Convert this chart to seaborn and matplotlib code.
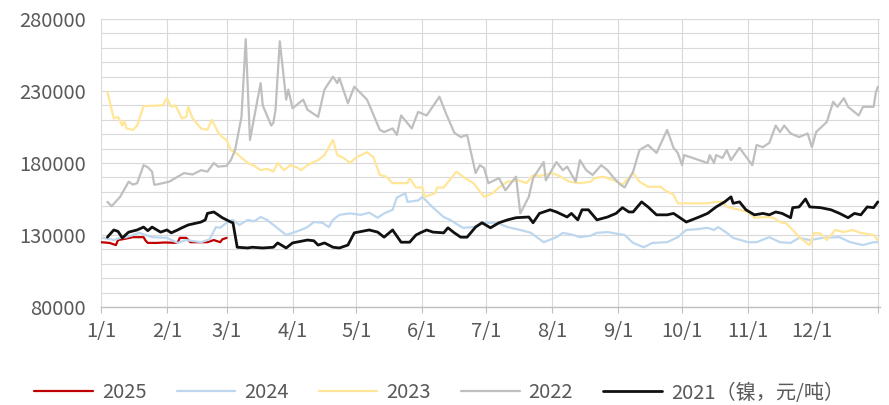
import matplotlib
matplotlib.use("Agg")
import matplotlib.pyplot as plt
import seaborn as sns
import pandas as pd
from matplotlib.ticker import MultipleLocator, FixedLocator

# nickel price by day of year (day 0 = Jan 1), yuan/ton
days_2025 = [0, 4, 7, 8, 10, 15, 20, 21, 22, 26, 30, 36, 37, 40, 42, 46, 50, 53, 56, 57, 59]
price_2025 = [125000, 124500, 123000, 126500, 127000, 128500, 128500, 126000, 124500, 124500,
              124800, 124500, 128000, 128000, 125000, 125000, 125000, 126500, 125000, 127000, 128000]

days_2024 = [1, 6, 9, 12, 18, 24, 31, 36, 40, 47, 51, 54, 56, 59, 62, 65, 69, 72, 75, 78,
             81, 84, 87, 90, 94, 97, 100, 104, 107, 109, 112, 117, 122, 126, 130, 133, 137, 139, 143, 144,
             149, 151, 156, 161, 164, 170, 175, 180, 186, 191, 197, 202, 208, 214, 217, 222, 225, 230, 233, 238,
             242, 246, 250, 255, 259, 266, 271, 275, 280, 285, 288, 290, 294, 297, 304, 308, 314, 319, 324, 328,
             333, 339, 347, 352, 358, 363, 365]
price_2024 = [128000, 126500, 128000, 128500, 131500, 128500, 128000, 124500, 126500, 125000,
              127000, 135500, 135000, 138500, 140500, 137000, 140500, 139500, 142500, 140500,
              137000, 133500, 130000, 131500, 133500, 135500, 139000, 138500, 135500, 140500,
              144000, 145000, 144000, 145500, 142000, 145000, 147500, 156000, 159000, 153000,
              154000, 156500, 149000, 142500, 140500, 135000, 135500, 138500, 138500, 135500,
              133500, 131500, 125000, 128500, 131500, 130000, 128500, 129500, 131500, 132000,
              131000, 130000, 124500, 121500, 124500, 125000, 128500, 133500, 134000, 135000,
              133500, 135500, 131500, 128000, 125000, 125000, 128500, 125000, 124500, 128000,
              126500, 128000, 128500, 125000, 123000, 125000, 125000]

days_2023 = [3, 6, 8, 10, 11, 12, 15, 17, 20, 29, 31, 33, 35, 38, 40, 41, 43, 47, 50, 52,
             55, 57, 59, 61, 63, 69, 72, 75, 78, 81, 83, 86, 89, 92, 94, 97, 99, 102, 105, 109,
             111, 114, 117, 120, 125, 128, 131, 134, 137, 144, 145, 148, 151, 152, 157, 158, 161, 167, 171, 175,
             180, 184, 187, 191, 196, 200, 203, 206, 212, 216, 220, 225, 230, 232, 236, 241, 245, 250, 253, 257,
             263, 265, 269, 271, 278, 285, 289, 292, 294, 300, 304, 307, 313, 316, 319, 322, 325, 328, 333, 335,
             338, 341, 345, 349, 353, 357, 363, 365]
price_2023 = [229500, 211000, 212000, 206000, 209000, 204000, 203000, 206000, 219500, 220000,
              225000, 219000, 220000, 211000, 212000, 219000, 211000, 204000, 203000, 210000,
              201500, 198000, 196000, 189000, 187500, 180000, 178000, 175000, 176000, 174000,
              180000, 175000, 178500, 177000, 175000, 178500, 180000, 182000, 185500, 196000,
              185500, 183500, 180000, 184000, 187500, 184000, 171700, 170500, 166000, 166000,
              169500, 163000, 163000, 156500, 159000, 163000, 163000, 174000, 169500, 166000,
              156500, 159000, 163000, 167000, 168000, 166000, 171700, 171000, 173000, 170500,
              167000, 166000, 167000, 169500, 170500, 168000, 165000, 173000, 167000, 163500,
              163500, 161000, 158000, 152000, 152000, 152000, 153000, 153000, 149500, 147500,
              146000, 142000, 142500, 142000, 139000, 138000, 133500, 128500, 123000, 131500,
              131000, 126500, 133500, 132000, 133500, 131500, 130000, 126500]

days_2022 = [3, 5, 9, 13, 15, 17, 20, 22, 24, 25, 26, 32, 39, 43, 47, 50, 53, 55, 59, 61,
             63, 66, 68, 70, 72, 75, 76, 80, 81, 82, 84, 87, 88, 90, 95, 97, 102, 105, 109, 111,
             112, 116, 119, 125, 131, 133, 137, 139, 141, 146, 149, 153, 159, 162, 166, 169, 172, 176, 178, 180,
             182, 187, 190, 195, 197, 201, 203, 208, 209, 214, 217, 219, 223, 225, 228, 231, 235, 238, 241, 244,
             246, 250, 253, 257, 261, 266, 269, 271, 273, 274, 285, 286, 288, 289, 292, 294, 296, 300, 306, 308,
             311, 314, 317, 319, 321, 324, 328, 332, 334, 336, 341, 344, 346, 349, 351, 356, 358, 363, 364, 365]
price_2022 = [153000, 150000, 156500, 167000, 165000, 166000, 178500, 177000, 174000, 165000,
              165000, 167000, 173000, 172000, 175000, 174000, 180000, 177500, 178000, 182000,
              189000, 212000, 266000, 196000, 212000, 235500, 220000, 206000, 208000, 217000,
              264500, 224000, 231000, 218000, 224000, 217000, 212000, 231000, 240000, 235500,
              239000, 221500, 233000, 224000, 203000, 201500, 204000, 199500, 213000, 204000,
              215500, 213000, 226000, 214700, 201000, 198000, 199500, 173000, 178500, 176500,
              166000, 169500, 161000, 170500, 145000, 156500, 169500, 180700, 168000, 180700,
              175000, 177500, 167000, 182000, 175000, 171700, 178500, 175000, 169500, 165000,
              163000, 174000, 189000, 192500, 187000, 203000, 190500, 187000, 178500, 185500,
              180000, 185500, 180000, 185500, 183500, 189000, 182000, 190500, 178500, 192500,
              191000, 194000, 206000, 201500, 206000, 200500, 198000, 200500, 191000, 201500,
              208500, 222500, 219000, 225000, 219000, 213000, 219000, 219000, 228500, 233000]

days_2021 = [3, 6, 8, 10, 13, 17, 20, 22, 24, 28, 31, 33, 36, 38, 41, 47, 49, 50, 53, 55,
             57, 61, 62, 64, 69, 71, 76, 81, 83, 87, 90, 97, 100, 102, 105, 109, 112, 116, 119, 126,
             130, 133, 137, 141, 145, 148, 150, 153, 156, 161, 163, 166, 169, 172, 176, 179, 183, 187, 191, 195,
             201, 203, 206, 211, 214, 219, 221, 224, 226, 229, 233, 238, 242, 245, 248, 250, 254, 257, 261, 266,
             269, 275, 281, 285, 289, 293, 296, 297, 300, 303, 307, 311, 314, 317, 320, 324, 325, 328, 331, 333,
             338, 343, 347, 351, 354, 357, 360, 363, 365]
price_2021 = [128500, 133500, 132500, 128000, 132000, 133500, 135500, 133000, 135500, 132000,
              133500, 131500, 133500, 135000, 137000, 139000, 140500, 145000, 146000, 144000,
              142000, 139000, 138500, 121500, 121000, 121500, 121000, 121500, 124500, 121000,
              124500, 126500, 126000, 123000, 124500, 121500, 121000, 123000, 131500, 133500,
              132000, 128500, 133500, 125000, 125000, 130000, 131500, 133500, 132000, 131500,
              135000, 131500, 128500, 128500, 135500, 138500, 135000, 138500, 140500, 142000,
              142500, 138500, 145000, 147500, 146000, 142500, 145000, 140500, 147500, 147500,
              140500, 142500, 145000, 149000, 146000, 146000, 153000, 149500, 144000, 144000,
              145000, 139000, 142500, 145000, 149500, 153000, 156500, 152000, 153000, 147500,
              144000, 145000, 144000, 146000, 145000, 142000, 149000, 149500, 155000, 149500,
              149000, 147500, 145000, 142000, 145000, 144000, 149500, 149000, 153000]

month_days = [0, 31, 59, 90, 120, 151, 181, 212, 243, 273, 304, 334, 365]
month_labels = ["1/1", "2/1", "3/1", "4/1", "5/1", "6/1", "7/1", "8/1", "9/1", "10/1", "11/1", "12/1", ""]
y_ticks = [80000, 130000, 180000, 230000, 280000]
year_labels = ["2025", "2024", "2023", "2022", "2021（镍，元/吨）"]

frames = []
for lab, d, p in zip(year_labels,
                     [days_2025, days_2024, days_2023, days_2022, days_2021],
                     [price_2025, price_2024, price_2023, price_2022, price_2021]):
    frames.append(pd.DataFrame({"day": d, "price": p, "year": lab}))
df = pd.concat(frames, ignore_index=True)

colors = {"2025": "#C00000", "2024": "#BDD7EE", "2023": "#FFE699",
          "2022": "#BFBFBF", "2021（镍，元/吨）": "#111111"}
widths = {"2025": 1.6, "2024": 1.6, "2023": 1.6, "2022": 1.6, "2021（镍，元/吨）": 2.0}

sns.set_theme(style="white")
plt.rcParams["font.family"] = ["Noto Sans CJK SC", "DejaVu Sans"]
text_color = "#595959"

fig = plt.figure(figsize=(8.89, 4.05), dpi=100)
ax = fig.add_axes([101 / 889, 1 - 307 / 405, 779 / 889, 288 / 405])

for lab in year_labels:
    sns.lineplot(data=df[df["year"] == lab], x="day", y="price", color=colors[lab],
                 linewidth=widths[lab], estimator=None, ax=ax, label=lab)

ax.set_xlim(0, 366)
ax.set_ylim(80000, 280000)
ax.yaxis.set_major_locator(FixedLocator(y_ticks))
ax.yaxis.set_minor_locator(MultipleLocator(10000))
ax.set_xticks(month_days)
ax.set_xticklabels(month_labels)
ax.grid(True, which="both", axis="y", color="#D9D9D9", linewidth=0.8)
ax.grid(True, which="major", axis="x", color="#D9D9D9", linewidth=0.8)
ax.set_axisbelow(True)
ax.set_xlabel("")
ax.set_ylabel("")

for s in ["top", "right", "left"]:
    ax.spines[s].set_visible(False)
ax.spines["bottom"].set_color("#BFBFBF")
ax.spines["bottom"].set_linewidth(1.0)

ax.tick_params(axis="x", bottom=True, length=4, width=0.8, color="#BFBFBF",
               pad=6, labelsize=14.5, labelcolor=text_color)
ax.tick_params(axis="y", which="both", left=False, length=0, pad=11,
               labelsize=14.5, labelcolor=text_color)

handles, labels = ax.get_legend_handles_labels()
ax.get_legend().remove()
fig.legend(handles, labels, loc="center", bbox_to_anchor=(0.494, 1 - 393 / 405), ncol=5,
           frameon=False, fontsize=14.5, handlelength=2.9, handletextpad=0.45,
           columnspacing=1.5, labelcolor=text_color)

fig.savefig("out.png", dpi=100)
